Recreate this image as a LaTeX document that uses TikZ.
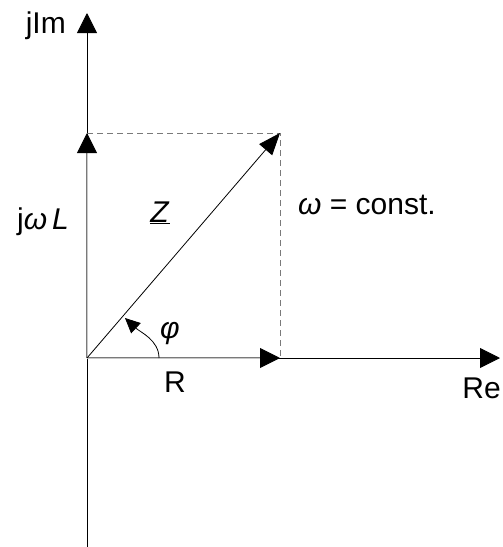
\documentclass[tikz,border=0pt]{standalone}
\usepackage{fontspec}
\setmainfont{Liberation Sans}
\usetikzlibrary{arrows.meta}
\definecolor{phasorInk}{HTML}{000000}
\definecolor{phasorGray}{HTML}{7A7A7A}
\definecolor{phasorLight}{HTML}{C8C8C8}

\begin{document}
\begin{tikzpicture}[x=1pt, y=-1pt, line join=miter,
  bigtip/.style={-{Triangle[length=20pt, width=20pt, color=phasorInk]}},
  axis/.style={phasorInk, line width=0.8pt, bigtip},
  part/.style={draw=phasorGray, double=phasorLight, double distance=0.9pt, line width=0.9pt, bigtip},
  help/.style={phasorGray, line width=0.9pt, dash pattern=on 6pt off 4pt},
  anglearc/.style={phasorInk, line width=0.8pt, -{Triangle[length=15pt, width=14pt]}},
  lbl/.style={font=\fontsize{30}{34}\selectfont, inner sep=0pt}]
  \useasboundingbox (0,0) rectangle (503,547);
  % points of the diagram
  \coordinate (O) at (87,358);
  \coordinate (imBot) at (87,547);
  \coordinate (imTip) at (87,13);
  \coordinate (reTip) at (500,358);
  \coordinate (rTip) at (280,358);
  \coordinate (lTip) at (87,133);
  \coordinate (zTip) at (280,133);
  \coordinate (phiA) at (159,358);
  \coordinate (phiB) at (125,318);
  % axes
  \draw[axis] (imBot) -- (imTip);
  \draw[axis] (O) -- (reTip);
  % helper rectangle
  \draw[help] (lTip) -- (zTip) -- (rTip);
  % phasors
  \draw[part] (O) -- (rTip);
  \draw[part] (O) -- (lTip);
  \draw[phasorInk, line width=0.8pt, -{Triangle[length=22pt, width=17pt]}] (O) -- (zTip);
  \draw[anglearc] (phiA) .. controls (159,340) and (140,332) .. (phiB);
  % labels
  \node[lbl, anchor=base east] (imLbl) at (66,33) {jIm};
  \node[lbl, anchor=base east] (reLbl) at (501,398) {Re};
  \node[lbl, anchor=base] (rLbl) at (175,392) {R};
  \node[lbl, anchor=base west] (lLbl) at (17,229) {j\textit{ω}\,\textit{L}};
  \node[lbl, anchor=base] (zLbl) at (160,222) {\underline{\textit{Z}}};
  \node[lbl, anchor=base west] (wLbl) at (298,214) {\textit{ω} = const.};
  \node[lbl, anchor=base] (phiLbl) at (170,338) {\textit{φ}};
\end{tikzpicture}
\end{document}
